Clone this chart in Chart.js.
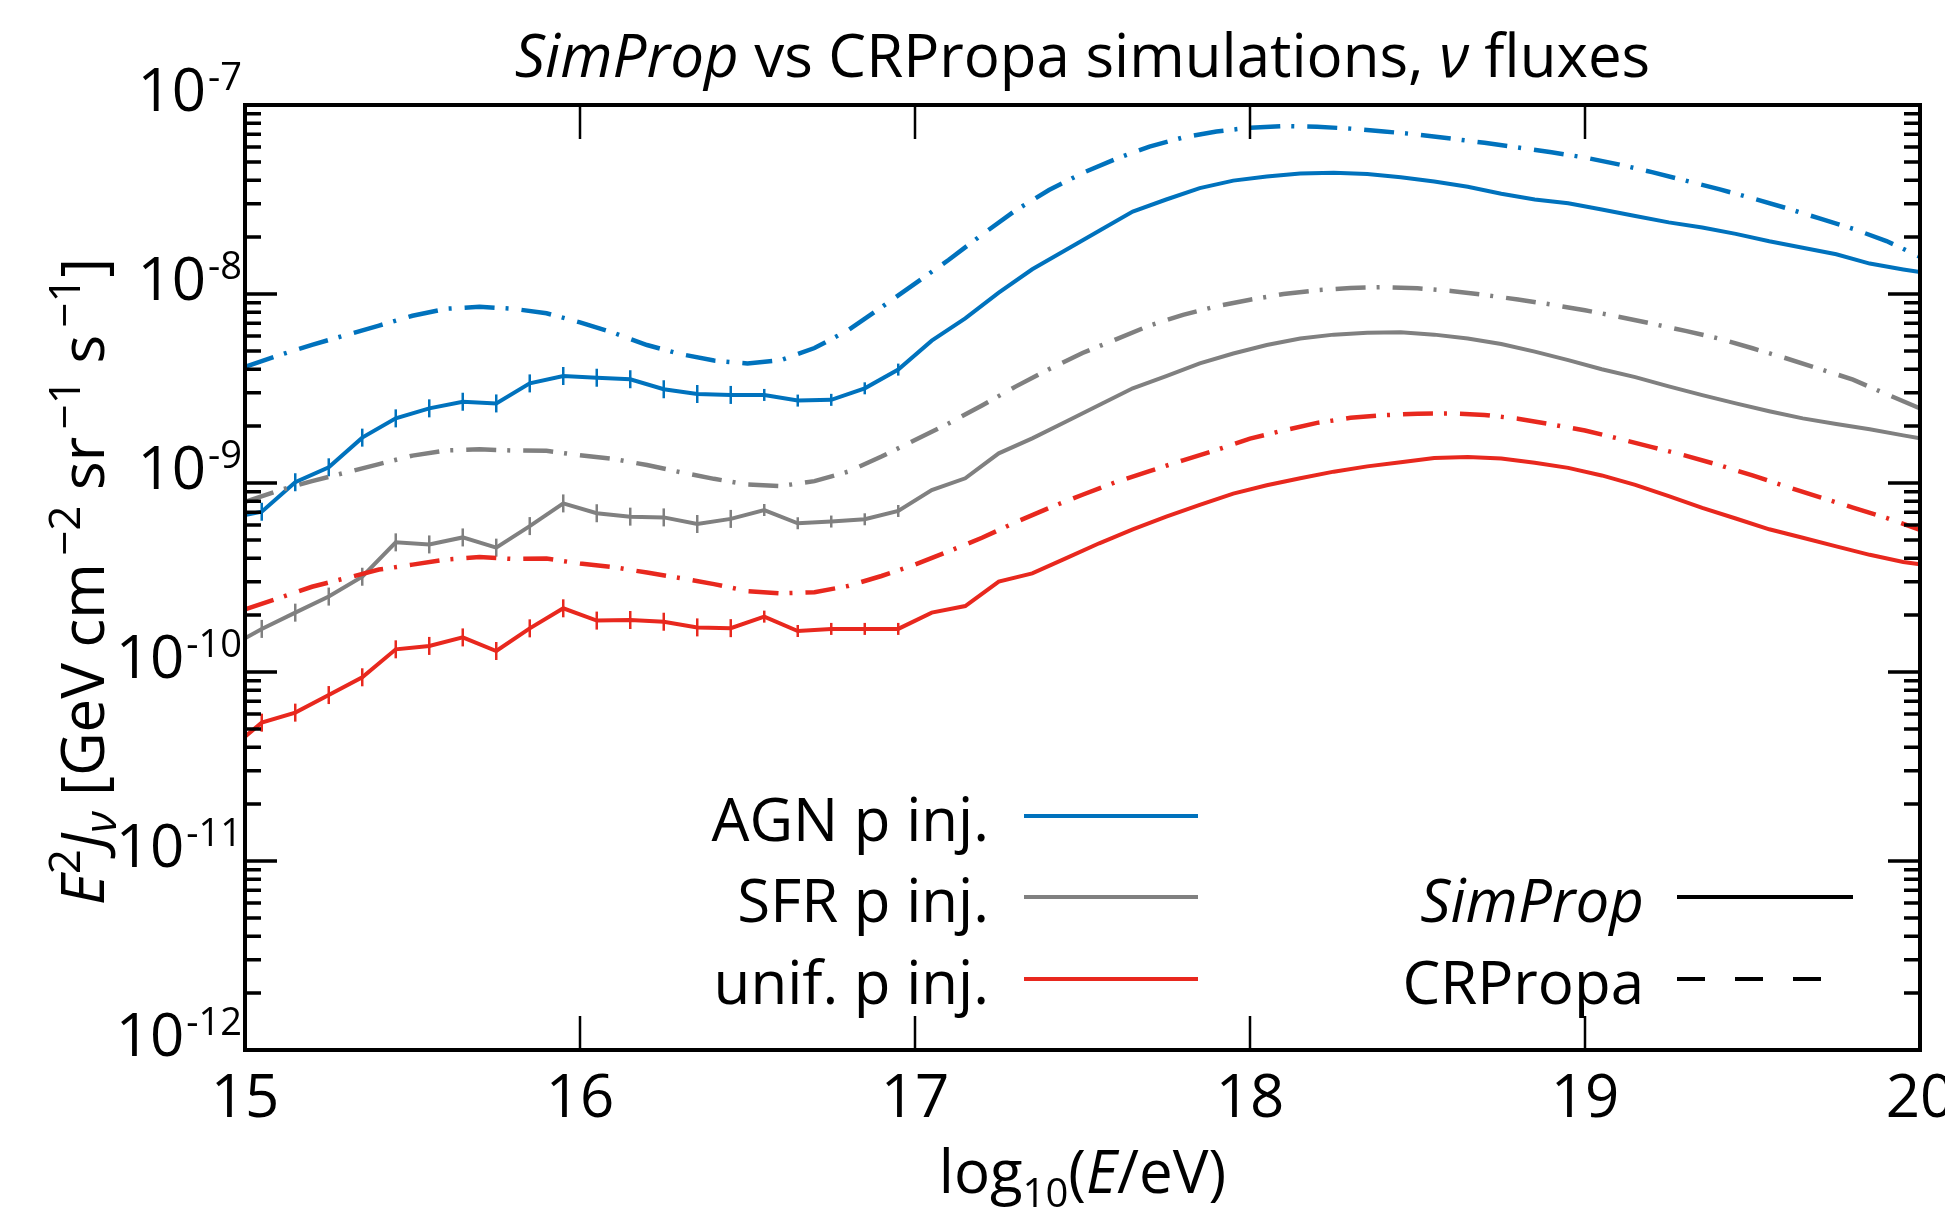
<!DOCTYPE html>
<html>
<head>
<meta charset="utf-8">
<title>SimProp vs CRPropa neutrino fluxes</title>
<script src="https://cdn.jsdelivr.net/npm/chart.js@4.4.0/dist/chart.umd.min.js"></script>
<style>
  html, body { margin: 0; padding: 0; background: #fff; }
</style>
</head>
<body>
<canvas id="fluxChart" width="1945" height="1212"></canvas>
<script>
// source models (legend order)
const models = ['AGN p inj.', 'SFR p inj.', 'unif. p inj.'];
const codes = ['SimProp', 'CRPropa'];

// log10(E/eV) of the SimProp points
const eSimProp = [15.00,
  15.05, 15.15, 15.25, 15.35, 15.45, 15.55, 15.65, 15.75, 15.85, 15.95,
  16.05, 16.15, 16.25, 16.35, 16.45, 16.55, 16.65, 16.75, 16.85, 16.95,
  17.05, 17.15, 17.25, 17.35, 17.45, 17.55, 17.65, 17.75, 17.85, 17.95,
  18.05, 18.15, 18.25, 18.35, 18.45, 18.55, 18.65, 18.75, 18.85, 18.95,
  19.05, 19.15, 19.25, 19.35, 19.45, 19.55, 19.65, 19.75, 19.85, 19.95,
  20.00];

// log10 of E^2 J_nu [GeV cm^-2 sr^-1 s^-1], SimProp
const agnSimProp = [-9.170,
  -9.152, -8.996, -8.917, -8.760, -8.658, -8.605, -8.570, -8.579, -8.473, -8.434,
  -8.443, -8.451, -8.504, -8.529, -8.534, -8.534, -8.564, -8.560, -8.499, -8.400,
  -8.247, -8.129, -7.993, -7.869, -7.767, -7.665, -7.564, -7.500, -7.440, -7.400,
  -7.378, -7.362, -7.358, -7.365, -7.382, -7.405, -7.433, -7.470, -7.500, -7.520,
  -7.553, -7.587, -7.621, -7.648, -7.682, -7.721, -7.755, -7.790, -7.839, -7.870,
  -7.884];
const sfrSimProp = [-9.822,
  -9.772, -9.686, -9.601, -9.496, -9.314, -9.325, -9.288, -9.342, -9.228, -9.108,
  -9.160, -9.178, -9.182, -9.217, -9.190, -9.143, -9.213, -9.204, -9.192, -9.148,
  -9.037, -8.975, -8.843, -8.764, -8.676, -8.587, -8.499, -8.434, -8.367, -8.315,
  -8.270, -8.235, -8.215, -8.205, -8.203, -8.215, -8.235, -8.265, -8.305, -8.350,
  -8.398, -8.440, -8.489, -8.535, -8.579, -8.620, -8.658, -8.688, -8.716, -8.748,
  -8.763];
const unifSimProp = [-10.342,
  -10.268, -10.215, -10.122, -10.028, -9.880, -9.862, -9.817, -9.889, -9.769, -9.663,
  -9.728, -9.725, -9.734, -9.764, -9.768, -9.707, -9.783, -9.772, -9.772, -9.772,
  -9.686, -9.651, -9.522, -9.478, -9.399, -9.319, -9.245, -9.178, -9.116, -9.056,
  -9.012, -8.975, -8.940, -8.912, -8.890, -8.868, -8.862, -8.870, -8.893, -8.920,
  -8.960, -9.010, -9.070, -9.132, -9.188, -9.245, -9.290, -9.335, -9.380, -9.418,
  -9.430];

// log10(E/eV) of the CRPropa points
const eCRPropa = [
  15.0, 15.1, 15.2, 15.3, 15.4, 15.5, 15.6, 15.7, 15.8, 15.9,
  16.0, 16.1, 16.2, 16.3, 16.4, 16.5, 16.6, 16.7, 16.8, 16.9,
  17.0, 17.1, 17.2, 17.3, 17.4, 17.5, 17.6, 17.7, 17.8, 17.9,
  18.0, 18.1, 18.2, 18.3, 18.4, 18.5, 18.6, 18.7, 18.8, 18.9,
  19.0, 19.1, 19.2, 19.3, 19.4, 19.5, 19.6, 19.7, 19.8, 19.9,
  20.0];

const agnCRPropa = [
  -8.385, -8.325, -8.269, -8.218, -8.167, -8.115, -8.078, -8.068, -8.078, -8.102,
  -8.150, -8.205, -8.270, -8.318, -8.352, -8.368, -8.350, -8.286, -8.192, -8.070,
  -7.945, -7.820, -7.686, -7.558, -7.450, -7.360, -7.285, -7.220, -7.172, -7.140,
  -7.120, -7.111, -7.115, -7.125, -7.140, -7.156, -7.178, -7.200, -7.225, -7.250,
  -7.278, -7.314, -7.355, -7.400, -7.445, -7.494, -7.545, -7.600, -7.655, -7.720,
  -7.803];
const sfrCRPropa = [
  -9.100, -9.040, -8.990, -8.945, -8.900, -8.855, -8.828, -8.822, -8.828, -8.830,
  -8.853, -8.873, -8.905, -8.943, -8.978, -9.008, -9.016, -8.990, -8.940, -8.860,
  -8.773, -8.685, -8.590, -8.490, -8.398, -8.312, -8.240, -8.167, -8.110, -8.065,
  -8.030, -8.000, -7.980, -7.968, -7.964, -7.970, -7.984, -8.005, -8.029, -8.056,
  -8.086, -8.120, -8.157, -8.195, -8.236, -8.287, -8.340, -8.396, -8.453, -8.530,
  -8.605];
const unifCRPropa = [
  -9.668, -9.610, -9.549, -9.504, -9.458, -9.432, -9.405, -9.392, -9.402, -9.400,
  -9.426, -9.445, -9.474, -9.503, -9.535, -9.572, -9.584, -9.578, -9.545, -9.492,
  -9.432, -9.362, -9.290, -9.208, -9.132, -9.062, -8.995, -8.937, -8.880, -8.825,
  -8.765, -8.722, -8.682, -8.655, -8.641, -8.633, -8.632, -8.640, -8.660, -8.690,
  -8.722, -8.765, -8.810, -8.855, -8.905, -8.960, -9.018, -9.075, -9.130, -9.185,
  -9.248];

// axis ticks
const xTicks = [15, 16, 17, 18, 19, 20];
const yExponents = [-12, -11, -10, -9, -8, -7];

const colors = ['#0072BD', '#808080', '#E8281E'];
const FONT = '"Open Sans", "Noto Sans", sans-serif';
const font = (size, italic) => (italic ? 'italic ' : '') + size + 'px ' + FONT;
const DASHDOT = [30, 11, 3, 13];

const toPoints = (es, logs) => es.map((e, i) => ({x: e, y: Math.pow(10, logs[i])}));
// error bars are only visible below 10^17 eV
const barSize = es => es.map(e => (e < 15.01 || e > 17) ? 0 : (e < 16.5 ? 9 : 6));

const simpropSets = [agnSimProp, sfrSimProp, unifSimProp].map((vals, i) => ({
  label: models[i] + ' SimProp',
  data: toPoints(eSimProp, vals),
  borderColor: colors[i],
  borderWidth: 4,
  pointStyle: 'line',
  pointRotation: 90,
  pointRadius: barSize(eSimProp),
  pointBorderWidth: 2.5,
  pointBorderColor: colors[i],
  pointHoverRadius: 0,
  clip: 0
}));
const crpropaSets = [agnCRPropa, sfrCRPropa, unifCRPropa].map((vals, i) => ({
  label: models[i] + ' CRPropa',
  data: toPoints(eCRPropa, vals),
  borderColor: colors[i],
  borderWidth: 4.5,
  borderDash: DASHDOT,
  pointRadius: 0,
  clip: 0
}));

function richWidth(ctx, parts) {
  let w = 0;
  parts.forEach(p => { ctx.font = p.font; w += ctx.measureText(p.text).width; });
  return w;
}
function drawRich(ctx, parts, x, y, align) {
  const w = richWidth(ctx, parts);
  let cx = align === 'center' ? x - w / 2 : (align === 'right' ? x - w : x);
  ctx.textAlign = 'left';
  ctx.textBaseline = 'alphabetic';
  parts.forEach(p => {
    ctx.font = p.font;
    ctx.fillText(p.text, cx, y + (p.dy || 0));
    cx += ctx.measureText(p.text).width;
  });
}

const decor = {
  id: 'decor',
  afterDraw(chart) {
    const {ctx, chartArea: a, scales: {x, y}} = chart;
    ctx.save();
    ctx.fillStyle = '#000';
    ctx.strokeStyle = '#000';

    // x ticks (inward, top and bottom)
    ctx.lineWidth = 2.5;
    xTicks.forEach(v => {
      const px = x.getPixelForValue(v);
      ctx.beginPath();
      ctx.moveTo(px, a.top); ctx.lineTo(px, a.top + 34);
      ctx.moveTo(px, a.bottom); ctx.lineTo(px, a.bottom - 34);
      ctx.stroke();
    });
    // y ticks (log, inward, left and right)
    ctx.lineWidth = 3.5;
    yExponents.forEach(d => {
      for (let m = 1; m <= 9; m++) {
        const v = m * Math.pow(10, d);
        if (v > y.max * 1.0001) break;
        const py = y.getPixelForValue(v);
        const len = m === 1 ? 32 : 16;
        ctx.beginPath();
        ctx.moveTo(a.left, py); ctx.lineTo(a.left + len, py);
        ctx.moveTo(a.right, py); ctx.lineTo(a.right - len, py);
        ctx.stroke();
      }
    });
    // frame
    ctx.lineWidth = 4;
    ctx.strokeRect(a.left, a.top, a.right - a.left, a.bottom - a.top);

    // x tick labels
    ctx.font = font(60);
    ctx.textAlign = 'center';
    ctx.textBaseline = 'alphabetic';
    xTicks.forEach(v => ctx.fillText(String(v), x.getPixelForValue(v), a.bottom + 67));

    // y tick labels 10^n
    yExponents.forEach(d => {
      const py = y.getPixelForValue(Math.pow(10, d));
      const exp = '-' + Math.abs(d);
      ctx.font = font(38);
      ctx.textAlign = 'right';
      ctx.fillText(exp, a.left - 3, py - 15);
      const ew = ctx.measureText(exp).width;
      ctx.font = font(60);
      ctx.fillText('10', a.left - 5 - ew, py + 6);
    });

    // title
    const midX = (a.left + a.right) / 2;
    drawRich(ctx, [
      {text: 'SimProp', font: font(60, true)},
      {text: ' vs CRPropa simulations, ', font: font(60)},
      {text: 'ν', font: font(60, true)},
      {text: ' fluxes', font: font(60)}
    ], midX, 77, 'center');

    // x axis title
    drawRich(ctx, [
      {text: 'log', font: font(60)},
      {text: '10', font: font(40), dy: 14},
      {text: '(', font: font(60)},
      {text: 'E', font: font(60, true)},
      {text: '/eV)', font: font(60)}
    ], midX, 1193, 'center');

    // y axis title (rotated)
    ctx.save();
    ctx.translate(104, (a.top + a.bottom) / 2 + 4);
    ctx.rotate(-Math.PI / 2);
    drawRich(ctx, [
      {text: 'E', font: font(60, true)},
      {text: '2', font: font(44), dy: -24},
      {text: 'J', font: font(60, true)},
      {text: 'ν', font: font(44, true), dy: 12},
      {text: ' [GeV cm', font: font(60)},
      {text: '\u2009−2', font: font(44), dy: -24},
      {text: ' sr', font: font(60)},
      {text: '\u2009−1', font: font(44), dy: -24},
      {text: ' s', font: font(60)},
      {text: '\u2009−1', font: font(44), dy: -24},
      {text: ']', font: font(60)}
    ], 0, 0, 'center');
    ctx.restore();

    // legend: models (colour) and codes (line style)
    const rows = [816, 897, 979];
    ctx.lineWidth = 4;
    models.forEach((m, i) => {
      ctx.font = font(60);
      ctx.textAlign = 'right';
      ctx.fillText(m, 989, rows[i] + 25);
      ctx.strokeStyle = colors[i];
      ctx.setLineDash([]);
      ctx.beginPath();
      ctx.moveTo(1024, rows[i]); ctx.lineTo(1198, rows[i]);
      ctx.stroke();
    });
    codes.forEach((c, i) => {
      const ry = rows[i + 1];
      ctx.font = font(60, i === 0);
      ctx.textAlign = 'right';
      ctx.fillStyle = '#000';
      ctx.fillText(c, 1644, ry + 25);
      ctx.strokeStyle = '#000';
      ctx.setLineDash(i === 0 ? [] : [28, 30]);
      ctx.beginPath();
      ctx.moveTo(1677, ry); ctx.lineTo(i === 0 ? 1853 : 1821, ry);
      ctx.stroke();
    });
    ctx.restore();
  }
};

new Chart(document.getElementById('fluxChart').getContext('2d'), {
  type: 'line',
  data: {datasets: [...crpropaSets, ...simpropSets]},
  options: {
    responsive: false,
    animation: false,
    devicePixelRatio: 1,
    layout: {padding: {left: 245, right: 25, top: 105, bottom: 162}},
    elements: {line: {tension: 0}},
    plugins: {legend: {display: false}, title: {display: false}, tooltip: {enabled: false}},
    scales: {
      x: {type: 'linear', min: 15, max: 20, display: false},
      y: {type: 'logarithmic', min: 1e-12, max: 1e-7, display: false}
    }
  },
  plugins: [decor]
});
</script>
</body>
</html>
